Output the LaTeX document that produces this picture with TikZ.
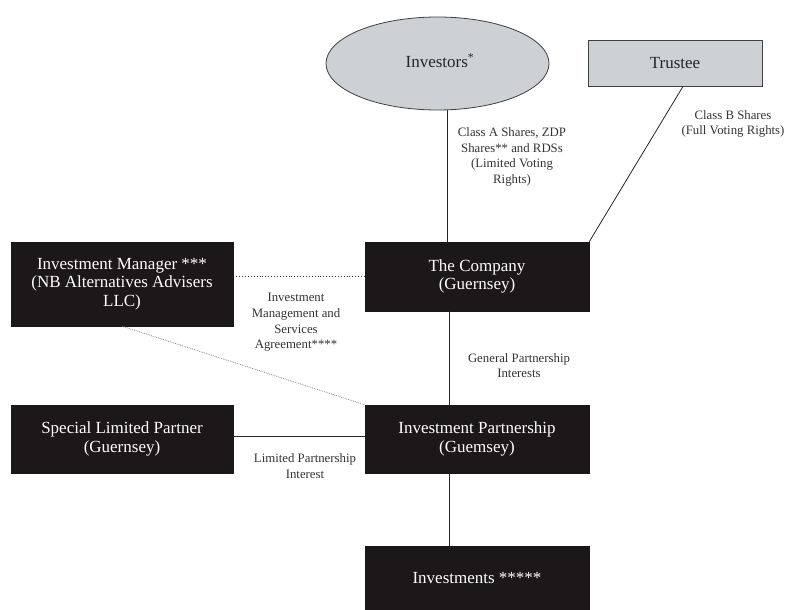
\documentclass[tikz,border=0pt]{standalone}
\usepackage{fontspec}
\setmainfont{Liberation Serif}
\usetikzlibrary{shapes.geometric}
\definecolor{boxblack}{HTML}{1C1718}
\definecolor{lightfill}{HTML}{CDD0D4}
\definecolor{labelgray}{HTML}{333333}
\begin{document}
\begin{tikzpicture}[x=1pt,y=-1pt,
  darkbox/.style={rectangle, fill=boxblack, draw=boxblack, text=white, align=center,
    font=\fontsize{17}{18.5}\selectfont, inner sep=0pt},
  lbl/.style={align=center, text=labelgray, font=\fontsize{12.8}{15.6}\selectfont, inner sep=0pt},
  link/.style={draw=black!85, line width=0.8pt},
  dotlink/.style={draw=black!80, line width=0.9pt, dotted},
  graylink/.style={draw=black!45, line width=0.8pt, densely dotted}]
\useasboundingbox (0,0) rectangle (793,610);

\node[ellipse, fill=lightfill, draw=black!75, line width=0.8pt, minimum width=223pt, minimum height=93pt,
  inner sep=0pt, font=\fontsize{17}{18.5}\selectfont, text=black!85] (inv) at (437.5,63.5) {};
\node[font=\fontsize{17}{18.5}\selectfont, text=black!85, inner sep=0pt] (invtxt) at (440,61) {Investors\textsuperscript{*}};
\node[rectangle, fill=lightfill, draw=black!75, line width=0.8pt, minimum width=174pt, minimum height=46pt,
  inner sep=0pt, font=\fontsize{17}{18.5}\selectfont, text=black!85] (tru) at (675,63) {Trustee};

\node[darkbox, minimum width=222pt, minimum height=84pt] (im) at (122,284) {Investment Manager ***\\(NB Alternatives Advisers\\LLC)};
\node[darkbox, minimum width=224pt, minimum height=69pt] (comp) at (477,276.5) {The Company\\(Guernsey)};
\node[darkbox, minimum width=222pt, minimum height=68pt] (slp) at (122,439) {Special Limited Partner\\(Guernsey)};
\node[darkbox, minimum width=224pt, minimum height=68pt] (ip) at (477,439) {Investment Partnership\\(Guemsey)};
\node[darkbox, minimum width=224pt, minimum height=64pt] (invs) at (477,578) {Investments *****};

% connectors
\draw[link] ([xshift=9.5pt]inv.south) -- ([xshift=-30pt]comp.north);
\draw[link] ([xshift=8pt]tru.south) -- (comp.north east);
\draw[dotlink] (comp.west) -- (comp.west -| im.east);
\draw[graylink] (im.south) -- (ip.north west);
\draw[link] ([xshift=-28pt]comp.south) -- ([xshift=-28pt]ip.north);
\draw[link] ([xshift=-28pt]ip.south) -- ([xshift=-28pt]invs.north);
\draw[link] ([yshift=3pt]slp.east) -- ([yshift=3pt]ip.west);

% labels
\node[lbl] (l1) at (512,157) {Class A Shares, ZDP\\Shares** and RDSs\\(Limited Voting\\Rights)};
\node[lbl] (l2) at (733,124) {Class B Shares\\(Full Voting Rights)};
\node[lbl] (l3) at (296,322.5) {Investment\\Management and\\Services\\Agreement****};
\node[lbl] (l4) at (519,365.5) {General Partnership\\Interests};
\node[lbl] (l5) at (305,466) {Limited Partnership\\Interest};
\end{tikzpicture}
\end{document}
